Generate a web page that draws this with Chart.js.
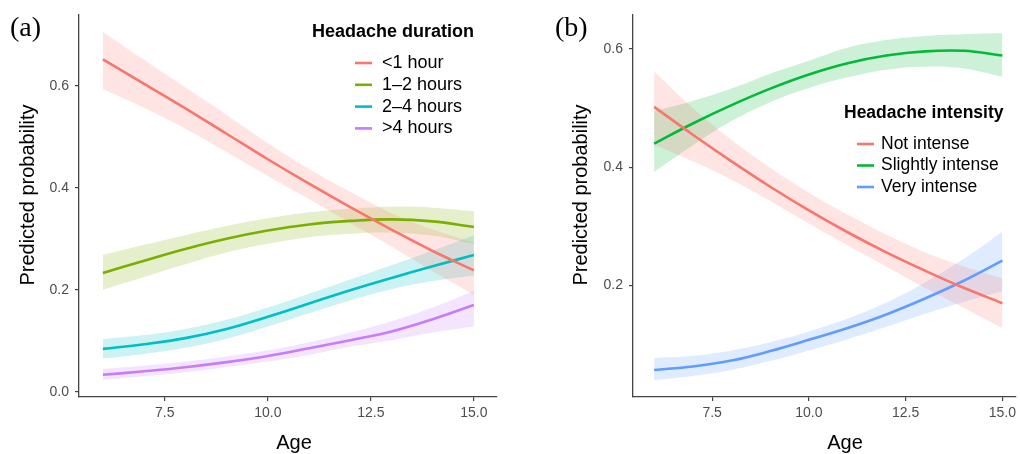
<!DOCTYPE html>
<html>
<head>
<meta charset="utf-8">
<script src="https://cdn.jsdelivr.net/npm/chart.js"></script>
<style>
  body { margin: 0; background: #fff; }
  #wrap { position: relative; width: 1020px; height: 454px; }
  canvas { position: absolute; top: 0; }
</style>
</head>
<body>
<div id="wrap">
  <canvas id="chartA" width="510" height="454" style="left:0"></canvas>
  <canvas id="chartB" width="510" height="454" style="left:510px"></canvas>
</div>
<script>
// ---- data ----
var ages = [6, 7, 8, 9, 10, 11, 12, 13, 14, 15];
var xTicks = [7.5, 10, 12.5, 15];

// (a) headache duration
var durNames = ['<1 hour', '1\u20132 hours', '2\u20134 hours', '>4 hours'];
var durColors = ['#F8766D', '#7CAE00', '#00BFC4', '#C77CFF'];
var durTicks = [0.0, 0.2, 0.4, 0.6];

var lt1Est = [0.652, 0.604, 0.556, 0.506, 0.456, 0.408, 0.362, 0.318, 0.276, 0.238];
var lt1Hi  = [0.706, 0.651, 0.597, 0.543, 0.488, 0.437, 0.392, 0.350, 0.318, 0.292];
var lt1Lo  = [0.594, 0.557, 0.516, 0.470, 0.423, 0.378, 0.331, 0.285, 0.236, 0.190];

var h12Est = [0.233, 0.257, 0.280, 0.300, 0.316, 0.328, 0.335, 0.338, 0.334, 0.323];
var h12Hi  = [0.268, 0.288, 0.307, 0.325, 0.340, 0.352, 0.359, 0.363, 0.361, 0.354];
var h12Lo  = [0.200, 0.225, 0.250, 0.273, 0.290, 0.303, 0.310, 0.312, 0.306, 0.290];

var h24Est = [0.084, 0.093, 0.105, 0.123, 0.147, 0.173, 0.199, 0.223, 0.246, 0.268];
var h24Hi  = [0.103, 0.111, 0.123, 0.141, 0.165, 0.192, 0.220, 0.248, 0.277, 0.307];
var h24Lo  = [0.065, 0.074, 0.086, 0.104, 0.128, 0.154, 0.179, 0.201, 0.217, 0.228];

var gt4Est = [0.033, 0.040, 0.048, 0.058, 0.070, 0.085, 0.101, 0.118, 0.142, 0.170];
var gt4Hi  = [0.045, 0.051, 0.059, 0.069, 0.081, 0.097, 0.116, 0.138, 0.165, 0.198];
var gt4Lo  = [0.023, 0.030, 0.038, 0.048, 0.059, 0.072, 0.088, 0.101, 0.116, 0.128];

// (b) headache intensity
var intNames = ['Not intense', 'Slightly intense', 'Very intense'];
var intColors = ['#F8766D', '#00BA38', '#619CFF'];
var intTicks = [0.2, 0.4, 0.6];

var notEst = [0.502, 0.455, 0.410, 0.367, 0.327, 0.290, 0.256, 0.225, 0.196, 0.170];
var notHi  = [0.562, 0.500, 0.446, 0.399, 0.357, 0.320, 0.286, 0.256, 0.232, 0.212];
var notLo  = [0.438, 0.410, 0.379, 0.343, 0.305, 0.268, 0.232, 0.196, 0.162, 0.128];

var sliEst = [0.440, 0.474, 0.505, 0.533, 0.557, 0.576, 0.589, 0.596, 0.597, 0.589];
var sliHi  = [0.495, 0.512, 0.533, 0.558, 0.580, 0.602, 0.615, 0.622, 0.625, 0.627];
var sliLo  = [0.392, 0.437, 0.478, 0.510, 0.534, 0.552, 0.565, 0.570, 0.567, 0.553];

var verEst = [0.057, 0.063, 0.073, 0.089, 0.108, 0.128, 0.151, 0.178, 0.208, 0.242];
var verHi  = [0.077, 0.081, 0.090, 0.104, 0.122, 0.144, 0.171, 0.205, 0.245, 0.291];
var verLo  = [0.040, 0.047, 0.057, 0.072, 0.090, 0.109, 0.130, 0.152, 0.172, 0.190];

var sans = '"Liberation Sans", Arial, sans-serif';

function pts(vals) {
  return ages.map(function (a, i) { return { x: a, y: vals[i] }; });
}

function hexA(hex, a) {
  var n = parseInt(hex.slice(1), 16);
  return 'rgba(' + (n >> 16) + ',' + ((n >> 8) & 255) + ',' + (n & 255) + ',' + a + ')';
}

// band (upper filled down to lower) + the fitted line, per series
function buildSets(names, colors, est, lo, hi) {
  var sets = [];
  names.forEach(function (nm, i) {
    sets.push({ data: pts(hi[i]), borderWidth: 0, borderColor: 'transparent', pointRadius: 0,
                backgroundColor: hexA(colors[i], 0.2), fill: '+1', tension: 0.4 });
    sets.push({ data: pts(lo[i]), borderWidth: 0, borderColor: 'transparent', pointRadius: 0,
                fill: false, tension: 0.4 });
  });
  names.forEach(function (nm, i) {
    sets.push({ label: nm, isLine: true, data: pts(est[i]), borderColor: colors[i], borderWidth: 2.6,
                pointRadius: 0, fill: false, tension: 0.4 });
  });
  return sets;
}

// ggplot-style legend, axis titles and panel tag
var ggLegend = {
  id: 'ggLegend',
  afterDraw: function (chart, args, o) {
    var c = chart.ctx;
    c.save();
    c.textBaseline = 'middle';
    c.fillStyle = '#000';
    c.font = '28px "Liberation Serif", "Times New Roman", serif';
    c.fillText(o.tag, o.tagX, o.tagY);

    c.textAlign = 'center';
    c.font = '20px ' + sans;
    c.fillText('Age', o.ageX, 443);
    c.save();
    c.translate(o.yTitleX, 195);
    c.rotate(-Math.PI / 2);
    c.fillText('Predicted probability', 0, 0);
    c.restore();

    c.textAlign = 'left';
    c.font = 'bold ' + o.fs + 'px ' + sans;
    c.fillText(o.title, o.x, o.y);
    c.font = o.fs + 'px ' + sans;
    chart.data.datasets.filter(function (d) { return d.isLine; }).forEach(function (d, i) {
      var yy = o.y0 + i * o.gap;
      c.strokeStyle = d.borderColor;
      c.lineWidth = 2.6;
      c.beginPath(); c.moveTo(o.sx, yy); c.lineTo(o.sx + 17, yy); c.stroke();
      c.fillStyle = '#000';
      c.fillText(d.label, o.tx, yy);
    });
    c.restore();
  }
};

function makeChart(id, sets, yTicks, xr, yr, yW, padRight, leg) {
  return new Chart(document.getElementById(id), {
    type: 'line',
    data: { datasets: sets },
    plugins: [ggLegend],
    options: {
      responsive: false,
      animation: false,
      layout: { padding: { left: 0, right: padRight, top: 15, bottom: 0 } },
      plugins: {
        legend: { display: false },
        tooltip: { enabled: false },
        filler: { drawTime: 'beforeDatasetsDraw' },
        ggLegend: leg
      },
      scales: {
        x: {
          type: 'linear', min: xr[0], max: xr[1],
          afterBuildTicks: function (s) { s.ticks = xTicks.map(function (v) { return { value: v }; }); },
          afterFit: function (s) { s.height = 57; },
          ticks: { callback: function (v) { return v.toFixed(1); }, font: { size: 14, family: sans },
                   color: '#4d4d4d', padding: 4, maxRotation: 0, autoSkip: false },
          grid: { display: true, drawOnChartArea: false, drawTicks: true, tickLength: 4, color: '#444', lineWidth: 1.2 },
          border: { display: true, color: '#444', width: 1.3 }
        },
        y: {
          type: 'linear', min: yr[0], max: yr[1],
          afterBuildTicks: function (s) { s.ticks = yTicks.map(function (v) { return { value: v }; }); },
          afterFit: function (s) { s.width = yW; },
          ticks: { callback: function (v) { return v.toFixed(1); }, font: { size: 14, family: sans },
                   color: '#4d4d4d', padding: 6 },
          grid: { display: true, drawOnChartArea: false, drawTicks: true, tickLength: 4, color: '#444', lineWidth: 1.2 },
          border: { display: true, color: '#444', width: 1.3 }
        }
      }
    }
  });
}

makeChart('chartA',
  buildSets(durNames, durColors,
    [lt1Est, h12Est, h24Est, gt4Est], [lt1Lo, h12Lo, h24Lo, gt4Lo], [lt1Hi, h12Hi, h24Hi, gt4Hi]),
  durTicks, [5.42, 15.56], [-0.0105, 0.739], 79, 13,
  { tag: '(a)', tagX: 10, tagY: 29, ageX: 294, yTitleX: 28, fs: 18,
    title: 'Headache duration', x: 312, y: 32, sx: 355, tx: 382, y0: 63, gap: 21.8 });

makeChart('chartB',
  buildSets(intNames, intColors,
    [notEst, sliEst, verEst], [notLo, sliLo, verLo], [notHi, sliHi, verHi]),
  intTicks, [5.454, 15.34], [0.0113, 0.6575], 123, 0,
  { tag: '(b)', tagX: 45, tagY: 29, ageX: 335, yTitleX: 71, fs: 17.5,
    title: 'Headache intensity', x: 334, y: 113, sx: 347, tx: 371, y0: 144, gap: 21.5 });
</script>
</body>
</html>
